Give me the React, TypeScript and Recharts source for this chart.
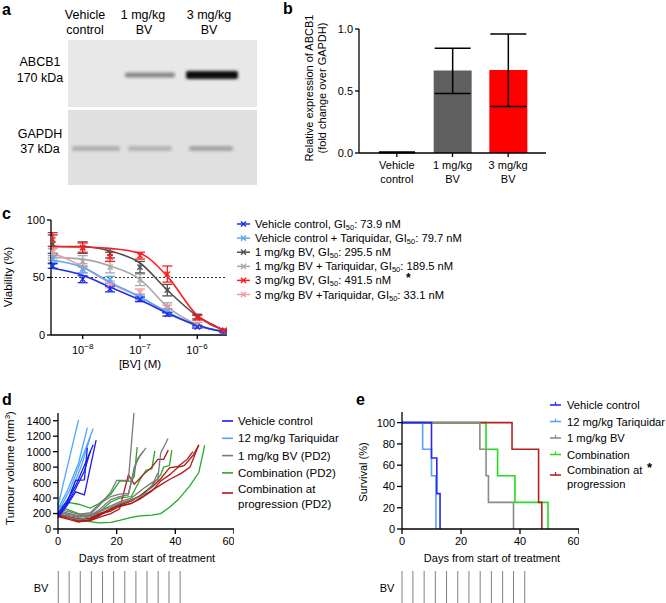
import React from 'react';
import { BarChart, Bar, Cell, XAxis, YAxis, ErrorBar, LineChart, Line, ReferenceLine } from 'recharts';

const FONT = '"Liberation Sans", Arial, Helvetica, sans-serif';

// ---------- Panel a (western blot) ----------
const blotLanes = ['Vehicle control', '1 mg/kg BV', '3 mg/kg BV'];
const abcb1Intensity = [0.0, 0.42, 0.95];
const gapdhIntensity = [0.22, 0.2, 0.27];

// ---------- Panel b ----------
const bCategories = ['Vehicle control', '1 mg/kg BV', '3 mg/kg BV'];
const bValues = [0.005, 0.665, 0.67];
const bErrLow = [0.003, 0.185, 0.295];
const bErrHigh = [0.003, 0.18, 0.29];
const bColors = ['#5f5f5f', '#5f5f5f', '#ff0000'];
const bTicks = [0, 0.5, 1.0];

// ---------- Panel c ----------
const cConc = [3e-9, 1e-8, 3e-8, 1e-7, 3e-7, 1e-6, 3e-6];
const cXTicks = [1e-8, 1e-7, 1e-6];
const cYTicks = [0, 50, 100];
const cNames = ['Vehicle control', 'Vehicle control + Tariquidar', '1 mg/kg BV', '1 mg/kg BV + Tariquidar', '3 mg/kg BV', '3 mg/kg BV +Tariquidar'];
const cGI50 = ['73.9 nM', '79.7 nM', '295.5 nM', '189.5 nM', '491.5 nM', '33.1 nM'];
const cColors = ['#1f2fe8', '#59a8f5', '#505050', '#a8a8a8', '#ff1c1c', '#f59a9a'];
const cVehicle = [60, 48.5, 40, 31, 18, 7, 3];
const cVehicleErr = [2, 3, 2.5, 2, 1.5, 1, 1];
const cVehicleFit = [58, 52, 41.7, 30.4, 19, 8.5, 2.5];
const cVehicleTq = [66, 57, 48, 33, 21, 7, 3];
const cVehicleTqErr = [3, 3, 3, 2.5, 2, 1, 1];
const cVehicleTqFit = [65, 59, 46, 33, 20, 8, 3];
const cBv1 = [79, 76, 71, 59, 39, 16, 4];
const cBv1Err = [8, 5, 4, 5, 5, 2, 1];
const cBv1Fit = [77, 77, 73, 62.6, 39, 16.5, 4];
const cBv1Tq = [70, 64, 59, 48, 24, 9, 3];
const cBv1TqErr = [5, 5, 5, 5, 4, 2, 1];
const cBv1TqFit = [67.5, 66, 60, 48.4, 24.6, 9, 3];
const cBv3 = [83, 76, 68, 69, 53, 15, 4];
const cBv3Err = [6, 4, 4, 3, 7, 2, 1];
const cBv3Fit = [77, 76.5, 75.4, 71, 51, 17, 4];
const cBv3Tq = [72, 58, 44, 37, 23, 8, 3];
const cBv3TqErr = [5, 4, 3, 3, 3, 1, 1];
const cBv3TqFit = [71.6, 59.4, 45, 33, 20, 8, 3];
const cDrawOrder = [3, 2, 5, 1, 0, 4];

// ---------- Panel d ----------
const dNames = ['Vehicle control', '12 mg/kg Tariquidar', '1 mg/kg BV (PD2)', 'Combination (PD2)', 'Combination at|progression (PD2)'];
const dColors = ['#1a1aee', '#4da6ff', '#7a7a7a', '#22aa22', '#b01818'];
const dYTicks = [0, 200, 400, 600, 800, 1000, 1200, 1400];
const dXTicks = [0, 20, 40, 60];
const dVehicle = [
  [[0, 170], [3, 330], [6, 630], [9, 635], [10, 1050]],
  [[0, 150], [3, 300], [6, 480], [9, 440], [13, 1150]],
  [[0, 200], [3, 360], [6, 560], [9, 820], [12, 1090]],
  [[0, 180], [3, 320], [6, 520], [9, 750], [11, 1000]],
];
const dTariquidar = [
  [[0, 300], [7, 1410]],
  [[0, 260], [3, 480], [7, 850], [10, 1310]],
  [[0, 220], [4, 500], [8, 900], [12, 1300]],
  [[0, 190], [4, 430], [8, 820], [11, 1190]],
];
const dBv = [
  [[0, 240], [4, 200], [7, 170], [11, 190], [14, 300], [18, 480], [20, 630], [24, 630], [26, 1550]],
  [[0, 230], [4, 170], [7, 150], [11, 170], [14, 250], [18, 380], [21, 420], [24, 440], [26, 800], [28, 950], [30, 1050]],
  [[0, 260], [4, 220], [7, 190], [11, 210], [14, 320], [18, 420], [21, 450], [24, 460], [26, 750], [27, 900], [29, 1000]],
  [[0, 200], [4, 150], [7, 120], [11, 160], [14, 230], [18, 300], [21, 350], [25, 400], [29, 520], [32, 600], [34, 640], [35, 980], [37.5, 1170]],
  [[0, 210], [4, 190], [7, 160], [11, 180], [14, 220], [18, 280], [21, 330], [25, 380], [29, 430], [32, 560], [34, 720]],
];
const dCombo = [
  [[0, 280], [4, 340], [7, 320], [11, 270], [14, 330], [18, 450], [21, 620], [25, 620], [26, 680], [27, 1060]],
  [[0, 300], [4, 240], [7, 200], [11, 160], [14, 220], [18, 350], [21, 400], [25, 420], [28, 640], [30, 760], [32, 780], [33, 1010]],
  [[0, 200], [4, 140], [7, 100], [11, 110], [14, 180], [18, 260], [21, 320], [25, 380], [28, 430], [32, 560], [35, 700], [36, 800], [38, 820], [38.8, 1020]],
  [[0, 200], [4, 150], [7, 110], [11, 95], [14, 80], [18, 85], [21, 110], [25, 150], [28, 170], [32, 180], [35, 200], [38, 280], [41, 380], [45, 560], [48, 730], [50, 1080]],
];
const dComboProg = [
  [[0, 180], [4, 150], [7, 100], [11, 110], [14, 150], [18, 200], [21, 260], [24, 700], [26, 580], [29, 700], [32, 800], [34, 900], [36, 900], [37.6, 1020]],
  [[0, 170], [4, 140], [7, 120], [11, 140], [14, 200], [18, 250], [21, 290], [25, 330], [28, 390], [32, 490], [35, 620], [38, 700], [41, 800], [43, 820], [46, 950], [48, 1085]],
  [[0, 160], [4, 120], [7, 90], [11, 120], [14, 170], [18, 260], [21, 310], [25, 360], [28, 430], [32, 540], [35, 650], [38, 790], [41, 810], [44, 900], [46, 1000]],
  [[0, 190], [4, 160], [7, 130], [11, 130], [14, 190], [18, 230], [21, 300], [25, 330], [28, 400], [32, 500], [35, 570], [38, 640], [42, 720], [45, 800], [48, 1090]],
];

// ---------- Panel e ----------
const eNames = ['Vehicle control', '12 mg/kg Tariquidar', '1 mg/kg BV', 'Combination', 'Combination at|progression'];
const eColors = ['#2a2aee', '#55a5f5', '#8a8a8a', '#22dd22', '#b22222'];
const eYTicks = [0, 20, 40, 60, 80, 100];
const eVehicle = [[0, 100], [10, 66.7], [11.8, 33.3], [12.9, 0]];
const eTariquidar = [[0, 100], [7, 75], [10, 50], [11.5, 0]];
const eBv = [[0, 100], [26.4, 75], [28.5, 50], [29.3, 25], [37.8, 0]];
const eCombo = [[0, 100], [28.5, 75], [32.4, 50], [38.3, 25], [49.5, 0]];
const eComboProg = [[0, 100], [37.3, 75], [46.3, 25], [47.4, 0]];

// ---------- BV dosing ----------
const bvDays = [0, 3.7, 7.5, 11.3, 15.1, 18.9, 22.7, 26.5, 30.3, 34.1, 37.8, 41.6];

// ---------- helpers ----------
const tickStyle = { fill: '#000', fontSize: 11, fontFamily: FONT };
const axisStyle = { stroke: '#000', strokeWidth: 1.3 };
const toPts = (arr: number[][]) => arr.map(([x, v]) => ({ x, v }));

const bData = bCategories.map((name, i) => ({ name, value: bValues[i], err: [bErrLow[i], bErrHigh[i]] }));

const cRaw = [
  [cVehicle, cVehicleErr, cVehicleFit],
  [cVehicleTq, cVehicleTqErr, cVehicleTqFit],
  [cBv1, cBv1Err, cBv1Fit],
  [cBv1Tq, cBv1TqErr, cBv1TqFit],
  [cBv3, cBv3Err, cBv3Fit],
  [cBv3Tq, cBv3TqErr, cBv3TqFit],
];
const cSeries = cRaw.map(([y, err, fit], i) => ({
  name: cNames[i],
  color: cColors[i],
  data: cConc.map((x, j) => ({ x, y: y[j], err: err[j], fit: fit[j] })),
}));

const dGroups = [dVehicle, dTariquidar, dBv, dCombo, dComboProg];
const dDrawOrder = [3, 4, 2, 1, 0];
const eGroups = [eVehicle, eTariquidar, eBv, eCombo, eComboProg];
const eDrawOrder = [3, 4, 2, 1, 0];

const BarTick = (props: any) => {
  const { x, y, payload } = props;
  const s: string = payload.value;
  const k = s.lastIndexOf(' ');
  return (
    <text x={x} y={y} textAnchor="middle" fontSize={11} fontFamily={FONT} fill="#000">
      <tspan x={x} y={y + 10}>{s.slice(0, k)}</tspan>
      <tspan x={x} y={y + 24}>{s.slice(k + 1)}</tspan>
    </text>
  );
};

const LogTick = (props: any) => {
  const { x, y, payload } = props;
  const exp = Math.round(Math.log10(payload.value));
  return (
    <text x={x} y={y + 13} textAnchor="middle" fontSize={11} fontFamily={FONT} fill="#000">
      <tspan>10</tspan>
      <tspan dy={-5} fontSize={8}>{'\u2212' + Math.abs(exp)}</tspan>
    </text>
  );
};

const makeCross = (color: string) => (props: any) => {
  const { cx, cy, index } = props;
  if (cx == null || cy == null) return <g key={index} />;
  const s = 2.6;
  return (
    <g key={index}>
      <line x1={cx - s} y1={cy - s} x2={cx + s} y2={cy + s} stroke={color} strokeWidth={1.4} />
      <line x1={cx - s} y1={cy + s} x2={cx + s} y2={cy - s} stroke={color} strokeWidth={1.4} />
    </g>
  );
};

const Blot = () => {
  const laneX = [96, 150, 211];
  return (
    <g>
      <defs>
        <filter id="blur1" x="-20%" y="-100%" width="140%" height="300%">
          <feGaussianBlur stdDeviation="1.6" />
        </filter>
      </defs>
      <rect x={68} y={40} width={189} height={67} fill="#e8e8e8" />
      <rect x={68} y={110} width={189} height={75} fill="#e0e0e0" />
      {blotLanes.map((l, i) => (
        abcb1Intensity[i] > 0 ? (
          <rect key={'t' + i} x={laneX[i] - 25} y={i === 2 ? 71 : 72.5} width={i === 2 ? 52 : 50} height={i === 2 ? 8 : 5}
            rx={2} fill={`rgba(0,0,0,${abcb1Intensity[i]})`} filter="url(#blur1)" />
        ) : null
      ))}
      {blotLanes.map((l, i) => (
        <rect key={'g' + i} x={laneX[i] - (i === 0 ? 24 : 22)} y={146} width={i === 0 ? 48 : 44} height={5}
          rx={2} fill={`rgba(0,0,0,${gapdhIntensity[i]})`} filter="url(#blur1)" />
      ))}
    </g>
  );
};

export default function App() {
  return (
    <div style={{ position: 'absolute', left: 0, top: 0, width: 666, height: 603, background: '#fff', fontFamily: FONT, overflow: 'hidden' }}>
      {/* Panel b */}
      <div style={{ position: 'absolute', left: 329, top: 0 }}>
        <BarChart width={217} height={193} data={bData} margin={{ top: 29, right: 0, bottom: 0, left: 0 }}>
          <XAxis dataKey="name" padding={{ left: 10, right: 10 }} tickSize={4} height={40}
            axisLine={axisStyle} tickLine={axisStyle} tick={<BarTick />} interval={0} />
          <YAxis type="number" domain={[0, 1]} ticks={bTicks} width={30} tickSize={4}
            axisLine={axisStyle} tickLine={axisStyle} tick={tickStyle} tickFormatter={(v: number) => v.toFixed(1)} />
          <Bar dataKey="value" barSize={38} isAnimationActive={false}>
            {bData.map((d, i) => <Cell key={i} fill={bColors[i]} />)}
            <ErrorBar dataKey="err" width={18} stroke="#000" strokeWidth={1.5} direction="y" />
          </Bar>
        </BarChart>
      </div>

      {/* Panel c */}
      <div style={{ position: 'absolute', left: 11, top: 200 }}>
        <LineChart width={216} height={175} margin={{ top: 20, right: 0, bottom: 0, left: 0 }}>
          <XAxis type="number" dataKey="x" scale="log" domain={[2.8e-9, 3.3e-6]} allowDataOverflow ticks={cXTicks}
            tick={<LogTick />} tickSize={4} height={40} axisLine={axisStyle} tickLine={axisStyle} />
          <YAxis type="number" domain={[0, 100]} ticks={cYTicks} width={40} tickSize={4}
            axisLine={axisStyle} tickLine={axisStyle} tick={tickStyle} />
          <ReferenceLine y={50} stroke="#333" strokeDasharray="2 2" strokeWidth={1} />
          {cDrawOrder.map((i) => {
            const s = cSeries[i];
            return [
              <Line key={'f' + i} data={s.data} dataKey="fit" type="monotone" stroke={s.color} strokeWidth={1.6}
                dot={false} activeDot={false} isAnimationActive={false} />,
              <Line key={'p' + i} data={s.data} dataKey="y" stroke="none" dot={makeCross(s.color)}
                activeDot={false} isAnimationActive={false}>
                <ErrorBar dataKey="err" width={5} stroke={s.color} strokeWidth={1.3} direction="y" />
              </Line>,
            ];
          })}
        </LineChart>
      </div>

      {/* Panel d */}
      <div style={{ position: 'absolute', left: 18, top: 400 }}>
        <LineChart width={216} height={169} margin={{ top: 13, right: 0, bottom: 0, left: 0 }}>
          <XAxis type="number" dataKey="x" domain={[0, 60]} ticks={dXTicks} tickSize={5} tickMargin={3} height={40}
            axisLine={axisStyle} tickLine={axisStyle} tick={tickStyle} />
          <YAxis type="number" domain={[0, 1500]} allowDataOverflow ticks={dYTicks} width={40} tickSize={5}
            axisLine={axisStyle} tickLine={axisStyle} tick={tickStyle} interval={0} />
          {dDrawOrder.map((g) =>
            dGroups[g].map((mouse, m) => (
              <Line key={`d${g}-${m}`} data={toPts(mouse)} dataKey="v" type="linear" stroke={dColors[g]} strokeWidth={1.3}
                dot={false} activeDot={false} isAnimationActive={false} />
            ))
          )}
        </LineChart>
      </div>

      {/* Panel e */}
      <div style={{ position: 'absolute', left: 362, top: 400 }}>
        <LineChart width={217} height={169} margin={{ top: 12, right: 0, bottom: 0, left: 0 }}>
          <XAxis type="number" dataKey="x" domain={[0, 60]} ticks={dXTicks} tickSize={5} tickMargin={3} height={40}
            axisLine={axisStyle} tickLine={axisStyle} tick={tickStyle} />
          <YAxis type="number" domain={[0, 110]} ticks={eYTicks} width={40} tickSize={5}
            axisLine={axisStyle} tickLine={axisStyle} tick={tickStyle} interval={0} />
          {eDrawOrder.map((g) => (
            <Line key={`e${g}`} data={toPts(eGroups[g])} dataKey="v" type="stepAfter" stroke={eColors[g]} strokeWidth={1.6}
              dot={false} activeDot={false} isAnimationActive={false} />
          ))}
        </LineChart>
      </div>

      {/* BV dosing ticks */}
      {[{ left: 0, plot: 58.3, w: 240, r: 6 }, { left: 344, plot: 402, w: 240, r: 5 }].map((p, k) => (
        <div key={k} style={{ position: 'absolute', left: p.left, top: 571 }}>
          <LineChart width={p.w} height={32} data={[{ x: 0, v: 0 }, { x: 60, v: 0 }]}
            margin={{ top: 0, right: p.r, bottom: 0, left: p.plot - p.left }}>
            <XAxis type="number" dataKey="x" domain={[0, 60]} hide />
            <YAxis type="number" domain={[0, 1]} hide />
            <Line dataKey="v" stroke="none" dot={false} activeDot={false} isAnimationActive={false} />
            {bvDays.map((d) => (
              <ReferenceLine key={d} x={d} stroke="#808080" strokeWidth={1} />
            ))}
          </LineChart>
        </div>
      ))}

      {/* Overlay: blot, labels, legends */}
      <svg width={666} height={603} style={{ position: 'absolute', left: 0, top: 0, pointerEvents: 'none' }}
        fontFamily={FONT}>
        <Blot />
        {/* panel letters */}
        {[['a', 2, 15], ['b', 283, 14], ['c', 2, 219], ['d', 2, 405], ['e', 356, 405]].map(([t, x, y]) => (
          <text key={t as string} x={x as number} y={y as number} fontSize={16} fontWeight="bold" fill="#000">{t}</text>
        ))}
        {/* panel a labels */}
        <g fontSize={12.5} fill="#000" textAnchor="middle">
          <text x={85} y={19}>Vehicle</text>
          <text x={85} y={34}>control</text>
          <text x={143} y={19}>1 mg/kg</text>
          <text x={144} y={34}>BV</text>
          <text x={209} y={19}>3 mg/kg</text>
          <text x={209} y={34}>BV</text>
          <text x={40} y={66}>ABCB1</text>
          <text x={40} y={82}>170 kDa</text>
          <text x={40} y={138}>GAPDH</text>
          <text x={40} y={153}>37 kDa</text>
        </g>
        {/* panel b y label */}
        <g fontSize={11} fill="#000" textAnchor="middle">
          <text transform="translate(313,88) rotate(-90)">Relative expression of ABCB1</text>
          <text transform="translate(326,88) rotate(-90)">(fold change over GAPDH)</text>
        </g>
        {/* panel c labels */}
        <text transform="translate(12,277) rotate(-90)" fontSize={11.5} textAnchor="middle" fill="#000">Viability (%)</text>
        <text x={140} y={368} fontSize={11.5} textAnchor="middle" fill="#000">[BV] (M)</text>
        {cSeries.map((s, i) => {
          const cy = 224 + i * 14.1;
          return (
            <g key={'cl' + i}>
              <line x1={237} y1={cy} x2={250} y2={cy} stroke={s.color} strokeWidth={1.5} />
              <line x1={241} y1={cy - 2.6} x2={246} y2={cy + 2.6} stroke={s.color} strokeWidth={1.4} />
              <line x1={241} y1={cy + 2.6} x2={246} y2={cy - 2.6} stroke={s.color} strokeWidth={1.4} />
              <text x={255} y={cy + 4} fontSize={11.2} fill="#000">
                <tspan>{s.name}, GI</tspan>
                <tspan dy={2} fontSize={7.5}>50</tspan>
                <tspan dy={-2}>: {cGI50[i]}</tspan>
              </text>
            </g>
          );
        })}
        <text x={406} y={282} fontSize={12} fontWeight="bold" fill="#000">*</text>
        {/* panel d labels */}
        <text transform="translate(14,468) rotate(-90)" fontSize={11.5} textAnchor="middle" fill="#000">
          <tspan>Tumour volume (mm</tspan>
          <tspan dy={-4} fontSize={8}>3</tspan>
          <tspan dy={4}>)</tspan>
        </text>
        <text x={147} y={562} fontSize={11} textAnchor="middle" fill="#000">Days from start of treatment</text>
        <text x={41} y={592} fontSize={11} textAnchor="middle" fill="#000">BV</text>
        {dNames.map((n, i) => {
          const parts = n.split('|');
          const cy = i < 4 ? 421 + i * 17.3 : 493;
          return (
            <g key={'dl' + i}>
              <line x1={222} y1={cy} x2={233} y2={cy} stroke={dColors[i]} strokeWidth={1.6} />
              {parts.length === 1 ? (
                <text x={238} y={cy + 4} fontSize={11.5} fill="#000">{n}</text>
              ) : (
                <g>
                  <text x={238} y={493} fontSize={11.5} fill="#000">{parts[0]}</text>
                  <text x={238} y={507.5} fontSize={11.5} fill="#000">{parts[1]}</text>
                </g>
              )}
            </g>
          );
        })}
        {/* panel e labels */}
        <text transform="translate(367,472) rotate(-90)" fontSize={11} textAnchor="middle" fill="#000">Survival (%)</text>
        <text x={492} y={562} fontSize={11} textAnchor="middle" fill="#000">Days from start of treatment</text>
        <text x={387} y={592} fontSize={11} textAnchor="middle" fill="#000">BV</text>
        {eNames.map((n, i) => {
          const parts = n.split('|');
          const cy = i < 4 ? 405 + i * 16.5 : 475;
          return (
            <g key={'el' + i}>
              <line x1={550} y1={cy} x2={561} y2={cy} stroke={eColors[i]} strokeWidth={1.6} />
              <line x1={555.5} y1={cy} x2={555.5} y2={cy - 3} stroke={eColors[i]} strokeWidth={1.2} />
              {parts.length === 1 ? (
                <text x={567} y={cy + 4} fontSize={11.2} fill="#000">{n}</text>
              ) : (
                <g>
                  <text x={567} y={474} fontSize={11.2} fill="#000">{parts[0]}</text>
                  <text x={567} y={487.5} fontSize={11.2} fill="#000">{parts[1]}</text>
                </g>
              )}
            </g>
          );
        })}
        <text x={647} y={472} fontSize={13} fontWeight="bold" fill="#000">*</text>
      </svg>
    </div>
  );
}
